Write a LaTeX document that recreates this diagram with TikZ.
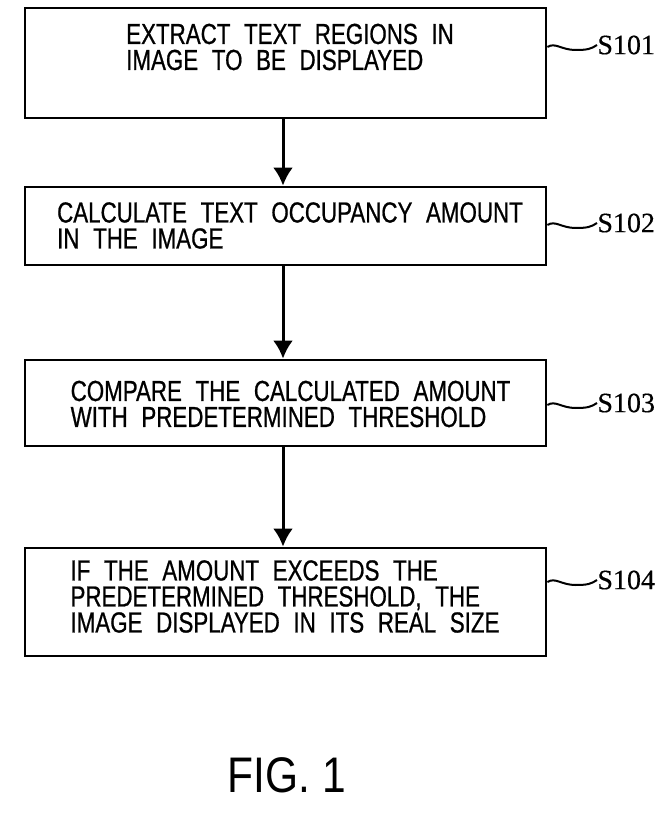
\documentclass[tikz,border=0pt]{standalone}
\usepackage{fontspec}
\setmainfont{Liberation Sans}[FakeStretch=0.85]
\newfontfamily\boxfont{Liberation Sans}[FakeStretch=0.77,WordSpace=2.2,FakeBold=0.7]
\newfontfamily\labelfont{Liberation Serif}[FakeBold=0.4]
\usetikzlibrary{arrows.meta}

\tikzset{
  stepbox/.style={draw, line width=1.4pt, minimum width=260.5pt, inner sep=0pt},
  steptext/.style={align=left, inner sep=0pt, font=\boxfont\fontsize{14.5pt}{13pt}\selectfont},
  steplabel/.style={anchor=west, inner sep=0pt, font=\labelfont\fontsize{14pt}{14pt}\selectfont},
  flow/.style={line width=1.5pt, -{Latex[length=9pt,width=10pt]}},
  tilde/.style={line width=1pt}
}

\begin{document}
\begin{tikzpicture}[x=0.5pt,y=-0.5pt]
			%%%%% START %%%%%
			\useasboundingbox (0,0) rectangle (656,822);

			\node[stepbox, minimum height=55pt] (b1) at (285.5,63) {};
			\node[stepbox, minimum height=39pt] (b2) at (285.5,226) {};
			\node[stepbox, minimum height=43pt] (b3) at (285.5,403) {};
			\node[stepbox, minimum height=54pt] (b4) at (285.5,602) {};

			\node[steptext] (t1) at (290,47) {EXTRACT TEXT REGIONS IN\\IMAGE TO BE DISPLAYED};
			\node[steptext] (t2) at (290,225.5) {CALCULATE TEXT OCCUPANCY AMOUNT\\IN THE IMAGE};
			\node[steptext] (t3) at (290.5,404) {COMPARE THE CALCULATED AMOUNT\\WITH PREDETERMINED THRESHOLD};
			\node[steptext] (t4) at (285,596.5) {IF THE AMOUNT EXCEEDS THE\\PREDETERMINED THRESHOLD, THE\\IMAGE DISPLAYED IN ITS REAL SIZE};

			\draw[flow] ([xshift=-1.25pt]b1.south) -- ([xshift=-1.25pt]b2.north);
			\draw[flow] ([xshift=-1.25pt]b2.south) -- ([xshift=-1.25pt]b3.north);
			\draw[flow] ([xshift=-1.25pt]b3.south) -- ([xshift=-1.25pt]b4.north);

			\node[steplabel] (l1) at (597,45) {S101};
			\node[steplabel] (l2) at (597,223) {S102};
			\node[steplabel] (l3) at (597,403) {S103};
			\node[steplabel] (l4) at (597,580) {S104};

			\foreach \b/\l in {b1/l1,b2/l2,b3/l3,b4/l4}{
				\coordinate (s) at ([yshift=-1pt]\b.east |- \l.west);
				\draw[tilde] (s) .. controls ([shift={(8,-5)}]s) and ([shift={(14,3)}]s) .. ([shift={(28,3)}]s)
					.. controls ([shift={(40,3)}]s) and ([shift={(-6,4)}]\l.west) .. (\l.west);
			}

			\node[font=\fontsize{25pt}{25pt}\selectfont] (fig) at (287,775) {FIG. 1};
			%%%%% END %%%%%
\end{tikzpicture}
\end{document}
